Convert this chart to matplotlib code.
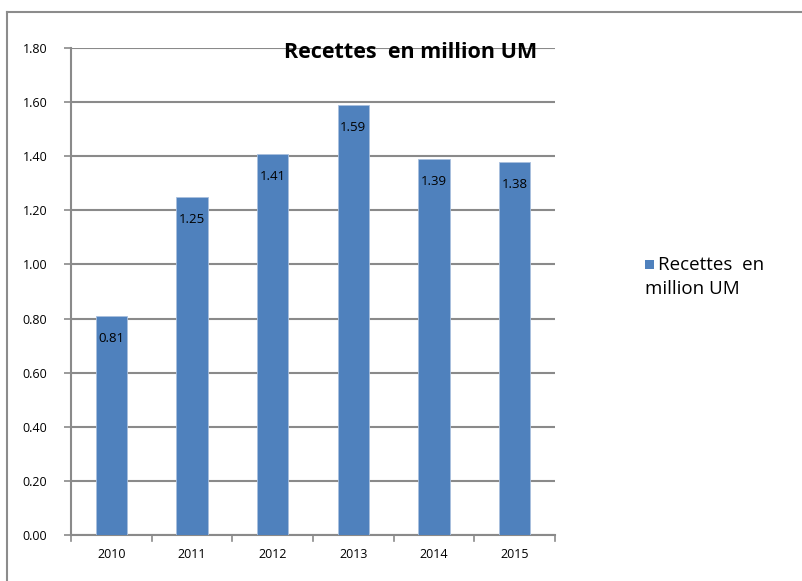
import matplotlib
matplotlib.use("Agg")
import matplotlib.pyplot as plt
from matplotlib.lines import Line2D
from matplotlib.patches import Rectangle

years = ["2010", "2011", "2012", "2013", "2014", "2015"]
values = [0.81, 1.25, 1.41, 1.59, 1.39, 1.38]
yticks = [0.0, 0.2, 0.4, 0.6, 0.8, 1.0, 1.2, 1.4, 1.6, 1.8]
title = "Recettes  en million UM"

plt.rcParams['font.family'] = ['Open Sans', 'DejaVu Sans']

W, H = 802, 581
fig = plt.figure(figsize=(W / 100, H / 100), dpi=100)
ax = fig.add_axes([71 / W, 1 - 535 / H, (555 - 71) / W, (535 - 48) / H])

bar_color = "#4F81BD"
grid_color = "#8a8a8a"
x = list(range(len(years)))
ax.bar(x, values, width=0.39, color=bar_color, edgecolor="#a9c0de", linewidth=0.6, zorder=3)

ax.set_xlim(-0.5, len(years) - 0.5)
ax.set_ylim(0, 1.8)
ax.set_yticks(yticks)
ax.set_yticklabels([f"{v:.2f}" for v in yticks], fontsize=9)
ax.set_xticks(x)
ax.set_xticklabels(years, fontsize=9)
ax.tick_params(axis='x', length=0, pad=9)
ax.tick_params(axis='y', length=5, color=grid_color, width=1.2, pad=12)

for b in [i - 0.5 for i in range(len(years) + 1)]:
    ax.plot([b, b], [0, -0.022], color=grid_color, lw=1.2, clip_on=False, zorder=4)

ax.grid(axis='y', color=grid_color, linewidth=1.5, zorder=0)
for s in ['top', 'right']:
    ax.spines[s].set_visible(False)
for s in ['left', 'bottom']:
    ax.spines[s].set_color(grid_color)
    ax.spines[s].set_linewidth(1.5)

for xi, v in zip(x, values):
    ax.annotate(f"{v:.2f}", (xi, v), xytext=(0, -23), textcoords='offset pixels',
                ha='center', va='center', fontsize=9.5, color='black', zorder=5)

fig.text(411 / W, 1 - 53 / H, title, ha='center', va='center', fontsize=15.5, fontweight='bold', zorder=10)

# legend
fig.patches.append(Rectangle((645 / W, 1 - 269 / H), 9 / W, 9 / H, transform=fig.transFigure,
                             facecolor=bar_color, edgecolor='none'))
fig.text(658 / W, 1 - 265 / H, "Recettes  en", ha='left', va='center', fontsize=13.5)
fig.text(645 / W, 1 - 289 / H, "million UM", ha='left', va='center', fontsize=13.5)

# outer frame (top and left visible)
fig.add_artist(Line2D([7 / W, 7 / W], [0, 1 - 12 / H], transform=fig.transFigure, color="#8c8c8c", lw=1.5))
fig.add_artist(Line2D([7 / W, 1], [1 - 12 / H, 1 - 12 / H], transform=fig.transFigure, color="#8c8c8c", lw=1.5))

fig.savefig("out.png", dpi=100, facecolor='white')
